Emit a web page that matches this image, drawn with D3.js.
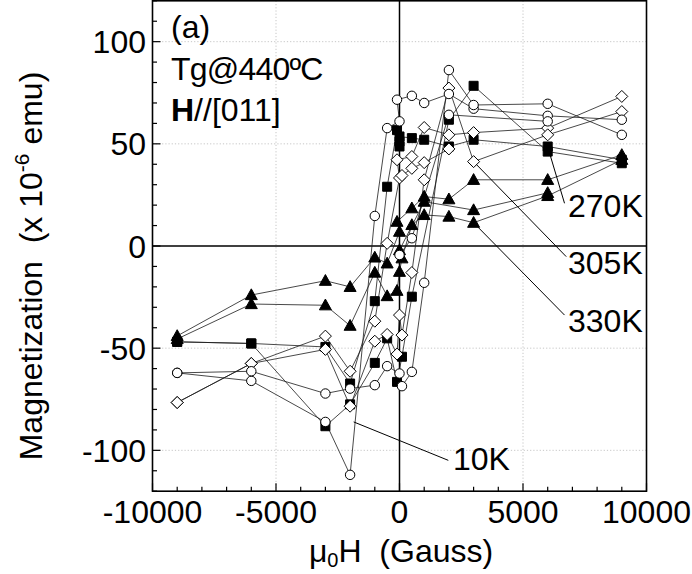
<!DOCTYPE html>
<html><head><meta charset="utf-8">
<script src="https://cdn.jsdelivr.net/npm/d3@7"></script>
<style>
body{margin:0;background:#fff;}
text{font-family:"Liberation Sans", Arial, Helvetica, sans-serif;fill:#000;}
</style>
</head><body>
<svg id="chart" width="692" height="574"></svg>
<script>
// ---------- data (field in Gauss, magnetization in 1e-6 emu) ----------
// 10K : open circles
const h10K_down = [9000, 6000, 3000, 2000, 1000, 500, -100, 0, -500, -1000, -2000, -3000, -6000, -9000];
const m10K_down = [61.8, 63.7, 67.2, 74.4, 70.0, 73.5, 71.6, 61.0, 57.7, 14.7, -112.0, -86.1, -66.0, -62.1];
const h10K_up   = [-9000, -6000, -3000, -2000, -1000, -500, 0, 100, 500, 1000, 2000, 3000, 6000, 9000];
const m10K_up   = [-62.1, -61.3, -72.2, -69.8, -68.1, -58.8, -62.4, -68.6, -61.6, -18.0, 86.1, 69.0, 69.6, 54.4];
const h10K_b    = [0, 500, 2000, 6000];
const m10K_b    = [-4.4, 3.8, 64.2, 61.0];
// 270K : filled squares
const h270K_down = [9000, 6000, 3000, 2000, 1000, 500, 0, 0, 0, -100, -500, -1000, -2000, -3000, -6000, -9000];
const m270K_down = [42.2, 48.7, 52.0, 48.7, 52.0, 52.8, 53.6, 48.7, 51.1, 56.7, 29.0, -27.0, -67.3, -49.4, -47.7, -46.9];
const h270K_up   = [-9000, -6000, -3000, -2000, -1000, -500, -100, 100, 500, 2000, 3000, 6000, 9000];
const m270K_up   = [-46.9, -47.7, -88.2, -77.5, -57.2, -45.2, -66.5, -54.2, -24.8, 61.8, 78.4, 46.2, 40.5];
// 305K : open diamonds
const h305K_down = [9000, 6000, 3000, 2000, 1000, 500, -100, 0, -500, -1000, -2000, -3000, -6000, -9000];
const m305K_down = [73.2, 57.7, 55.5, 54.4, 58.0, 43.8, 42.2, 33.3, 1.3, -36.8, -61.3, -44.1, -57.5, -76.6];
const h305K_up   = [-9000, -6000, -3000, -2000, -1000, -500, -100, 0, 100, 500, 1000, 2000, 3000, 6000, 9000];
const m305K_up   = [-76.6, -57.5, -50.6, -78.4, -46.6, -43.3, -52.9, -33.8, -43.6, -13.0, 32.4, 77.3, 41.3, 54.4, 65.8];
const h305K_b    = [100, 500, 1000, 2000];
const m305K_b    = [34.5, 38.0, 40.8, 47.5];
// 330K : filled triangles
const h330K_down = [9000, 6000, 3000, 2000, 1000, 500, -100, 0, -500, -1000, -2000, -3000, -6000, -9000];
const m330K_down = [44.6, 32.4, 32.4, 22.9, 24.2, 18.5, 11.9, 7.0, -8.5, -5.6, -20.0, -17.0, -24.0, -44.0];
const h330K_up   = [-9000, -6000, -3000, -2000, -1000, -500, -100, 0, 100, 500, 1000, 2000, 3000, 6000, 9000];
const m330K_up   = [-45.5, -28.4, -29.0, -39.0, -13.0, -24.5, -21.9, -12.6, -6.0, 10.3, 15.2, 14.4, 11.4, 24.5, 42.2];
const h330K_b    = [0, 1000, 3000, 6000];
const m330K_b    = [-2.0, 21.7, 17.6, 26.0];

// axis ticks
const xTicks = [-10000, -5000, 0, 5000, 10000];
const yTicks = [-100, -50, 0, 50, 100];

// leader lines for temperature labels (data coordinates)
const tempLabels = ["10K", "270K", "305K", "330K"];
const leaderFromH = [-1855, 6077, 3000, 3000];
const leaderFromM = [-86.1, 45.4, 41.3, 11.4];
const leaderToH   = [1976, 6681, 6750, 6681];
const leaderToM   = [-104.9, 20.9, -5.2, -33.8];

// ---------- drawing ----------
const svg = d3.select("#chart");
const W = 692, H = 574;
const pL = 152.5, pR = 646.5, pT = 0.8, pB = 491.2;
const x = d3.scaleLinear().domain([-10000, 10000]).range([pL, pR]);
const y = d3.scaleLinear().domain([-120, 120]).range([pB, pT]);

svg.append("rect").attr("width", W).attr("height", H).attr("fill", "#fff");

// grid (dotted)
const grid = svg.append("g").attr("stroke", "#b8b8b8").attr("stroke-width", 0.8).attr("stroke-dasharray", "1.2,2");
[-5000, 5000].forEach(v => grid.append("line").attr("x1", x(v)).attr("x2", x(v)).attr("y1", pT).attr("y2", pB));
[-100, -50, 50, 100].forEach(v => grid.append("line").attr("y1", y(v)).attr("y2", y(v)).attr("x1", pL).attr("x2", pR));

// zero lines
svg.append("line").attr("x1", x(0)).attr("x2", x(0)).attr("y1", pT).attr("y2", pB).attr("stroke", "#000").attr("stroke-width", 1.5);
svg.append("line").attr("y1", y(0)).attr("y2", y(0)).attr("x1", pL).attr("x2", pR).attr("stroke", "#000").attr("stroke-width", 1.5);

// ticks (inward)
const tk = svg.append("g").attr("stroke", "#000").attr("stroke-width", 1.2);
d3.range(-10000, 10001, 1000).forEach(v => {
  const major = v % 5000 === 0;
  tk.append("line").attr("x1", x(v)).attr("x2", x(v)).attr("y1", pB).attr("y2", pB - (major ? 8 : 4.5));
});
d3.range(-120, 121, 10).forEach(v => {
  const major = v % 50 === 0;
  tk.append("line").attr("y1", y(v)).attr("y2", y(v)).attr("x1", pL).attr("x2", pL + (major ? 8 : 4.5));
});

// frame
svg.append("rect").attr("x", pL).attr("y", pT).attr("width", pR - pL).attr("height", pB - pT)
  .attr("fill", "none").attr("stroke", "#000").attr("stroke-width", 1.6);

// tick labels
svg.append("g").selectAll("text").data(xTicks).join("text")
  .attr("x", d => x(d)).attr("y", 523).attr("text-anchor", "middle").attr("font-size", 32).text(d => d);
svg.append("g").selectAll("text").data(yTicks).join("text")
  .attr("x", 146).attr("y", d => y(d) + 11.5).attr("text-anchor", "end").attr("font-size", 32).text(d => d);

// axis titles
const xt = svg.append("text").attr("x", 401).attr("y", 562).attr("text-anchor", "middle").attr("font-size", 32);
xt.append("tspan").text("\u03bc");
xt.append("tspan").attr("font-size", 20).attr("dy", 5).text("0");
xt.append("tspan").attr("dy", -5).text("H\u00a0\u00a0(Gauss)");

const yt = svg.append("text").attr("transform", "translate(42,266) rotate(-90)").attr("text-anchor", "middle").attr("font-size", 32);
yt.append("tspan").text("Magnetization\u00a0\u00a0(x 10");
yt.append("tspan").attr("font-size", 21).attr("dy", -13).text("-6");
yt.append("tspan").attr("dy", 13).text("\u00a0emu)");

// annotations
svg.append("text").attr("x", 171).attr("y", 38).attr("font-size", 32).text("(a)");
svg.append("text").attr("x", 171).attr("y", 80).attr("font-size", 32).attr("letter-spacing", -0.8).text("Tg@440\u00baC");
const hl = svg.append("text").attr("x", 171).attr("y", 121).attr("font-size", 32);
hl.append("tspan").attr("font-weight", "bold").text("H");
hl.append("tspan").text("//[011]");

// series definitions
const series = [
  {marker: "circle",   branches: [[h10K_down, m10K_down], [h10K_up, m10K_up], [h10K_b, m10K_b]]},
  {marker: "square",   branches: [[h270K_down, m270K_down], [h270K_up, m270K_up]]},
  {marker: "diamond",  branches: [[h305K_down, m305K_down], [h305K_up, m305K_up], [h305K_b, m305K_b]]},
  {marker: "triangle", branches: [[h330K_down, m330K_down], [h330K_up, m330K_up], [h330K_b, m330K_b]]}
];

const line = d3.line().x(d => x(d[0])).y(d => y(d[1]));
const lg = svg.append("g").attr("fill", "none").attr("stroke", "#1a1a1a").attr("stroke-width", 0.8);
series.forEach(s => s.branches.forEach(b => {
  const pts = b[0].map((h, i) => [h, b[1][i]]);
  lg.append("path").attr("d", line(pts));
}));

// leader lines
const ll = svg.append("g").attr("stroke", "#000").attr("stroke-width", 1);
tempLabels.forEach((t, i) => {
  ll.append("line").attr("x1", x(leaderFromH[i])).attr("y1", y(leaderFromM[i]))
    .attr("x2", x(leaderToH[i])).attr("y2", y(leaderToM[i]));
});

// markers
const shapes = {
  circle:   {d: d3.symbol(d3.symbolCircle, 70)(), fill: "#fff"},
  square:   {d: "M-4.5,-4.5H4.5V4.5H-4.5Z", fill: "#000"},
  diamond:  {d: "M0,-6L6,0L0,6L-6,0Z", fill: "#fff"},
  triangle: {d: "M0,-6.2L6,4.6L-6,4.6Z", fill: "#000"}
};
const order = ["triangle", "square", "diamond", "circle"];
order.forEach(mk => {
  const s = series.find(q => q.marker === mk);
  const mg = svg.append("g");
  s.branches.forEach(b => {
    b[0].forEach((h, i) => {
      mg.append("path").attr("d", shapes[mk].d)
        .attr("transform", `translate(${x(h)},${y(b[1][i])})`)
        .attr("fill", shapes[mk].fill).attr("stroke", "#000").attr("stroke-width", 1);
    });
  });
});

// temperature labels
const labelPos = [[453, 470], [568, 217], [568, 274], [568, 332]];
tempLabels.forEach((t, i) => {
  svg.append("text").attr("x", labelPos[i][0]).attr("y", labelPos[i][1]).attr("font-size", 32).text(t);
});
</script>
</body></html>
